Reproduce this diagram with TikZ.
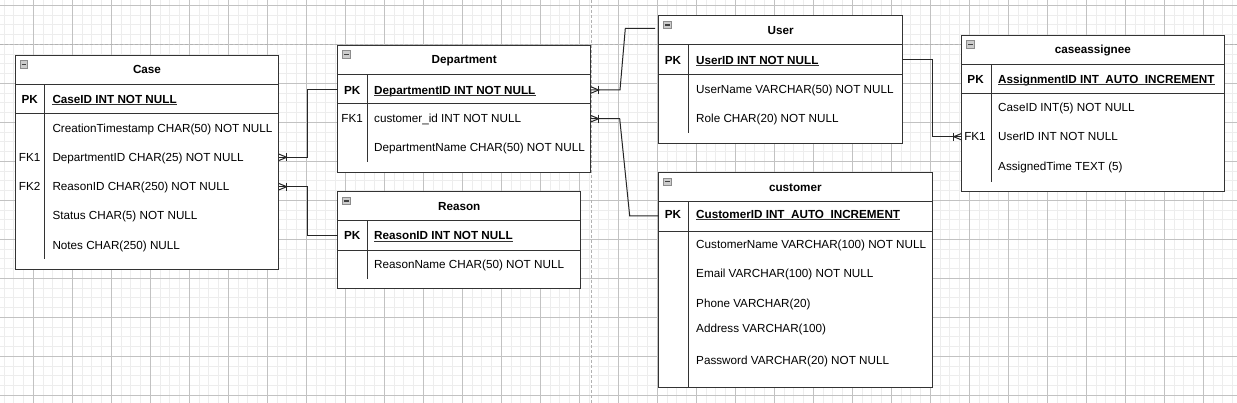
\documentclass[tikz,border=0pt]{standalone}
\usepackage{fontspec}
\setmainfont{Liberation Sans}
\usetikzlibrary{calc}
\newcommand\fsz{\fontsize{11.7}{14}\selectfont}
\tikzset{
 tbox/.style={draw=black!80, fill=white, line width=1pt, inner sep=0pt, outer sep=0pt, rectangle},
 tline/.style={draw=black!80, line width=1pt},
 ticon/.style={draw=gray!90, fill=gray!40, line width=0.6pt},
 ticonl/.style={draw=black!75, line width=1.1pt},
 ttitle/.style={font=\fsz\bfseries, inner sep=0pt, text height=8.4pt, text depth=0pt},
 fld/.style={font=\fsz, anchor=west, inner sep=0pt, text height=8.4pt, text depth=0pt},
 pkfld/.style={fld, font=\fsz\bfseries},
 keyl/.style={font=\fsz, inner sep=0pt, text height=8.4pt, text depth=0pt},
 pkkey/.style={keyl, font=\fsz\bfseries},
 uline/.style={draw=black!80, line width=1pt},
 conn/.style={draw=black!85, line width=1pt},
 gminor/.style={draw=black!7, line width=0.8pt},
 gmajor/.style={draw=black!24, line width=0.8pt},
 pageline/.style={draw=black!30, line width=1pt, dash pattern=on 3pt off 2pt},
 crowfoot/.pic={\draw[conn] (0,-3.3) -- (8,0) -- (0,3.3); \draw[conn] (8,-4) -- (8,4);}
}
% #1 name, #2 x, #3 y, #4 w, #5 h, #6 title, #7 divider gap at bottom
\newcommand\ertbl[7]{%
 \node[tbox, minimum width=#4pt, minimum height=#5pt, anchor=north west] (#1) at (#2,#3) {};
 \draw[tline] ($(#1.north west)+(0,29)$) -- ($(#1.north east)+(0,29)$);
 \draw[tline] ($(#1.north west)+(0,58.4)$) -- ($(#1.north east)+(0,58.4)$);
 \draw[tline] ($(#1.north west)+(29.3,29)$) -- ($(#1.south west)+(29.3,-#7)$);
 \draw[ticon] ($(#1.north west)+(4.8,5.3)$) rectangle ($(#1.north west)+(12.3,12.8)$);
 \draw[ticonl] ($(#1.north west)+(6.2,9.05)$) -- ($(#1.north west)+(10.9,9.05)$);
 \node[ttitle] (#1-title) at ($(#1.north)+(0,14.5)$) {#6};
}
\newcommand\pkul[1]{\draw[uline] ([yshift=-1.3pt]#1.south west) -- ([yshift=-1.3pt]#1.south east);}
\begin{document}
\begin{tikzpicture}[x=1pt,y=-1pt]
\useasboundingbox (0,0) rectangle (1237,403);
\fill[white] (0,0) rectangle (1237,403);
\begin{scope}
 \clip (0,0) rectangle (1237,403);
 \begin{scope}[shift={(33.3,5.3)}]
  \draw[gminor] (-40,-40) grid[step=9.75pt] (1220,410);
  \draw[gmajor] (-39,-39) grid[step=39pt] (1209,402);
 \end{scope}
 \draw[pageline] (0,44.3) -- (1237,44.3);
 \draw[pageline] (591,0) -- (591,403);
\end{scope}

% ---------- Case ----------
\ertbl{case}{15.3}{55.3}{263.4}{214}{Case}{10}
\node[pkkey] (case-pkk) at (29.7,99) {PK};
\node[pkfld] (case-pk) at (52.3,99) {CaseID INT NOT NULL}; \pkul{case-pk}
\node[fld] (case-r1) at (52.3,128.7) {CreationTimestamp CHAR(50) NOT NULL};
\node[keyl] (case-k2) at (29.7,157.3) {FK1};
\node[fld] (case-r2) at (52.3,157.3) {DepartmentID CHAR(25) NOT NULL};
\node[keyl] (case-k3) at (29.7,186.7) {FK2};
\node[fld] (case-r3) at (52.3,186.7) {ReasonID CHAR(250) NOT NULL};
\node[fld] (case-r4) at (52.3,215.7) {Status CHAR(5) NOT NULL};
\node[fld] (case-r5) at (52.3,245.3) {Notes CHAR(250) NULL};

% ---------- Department ----------
\ertbl{dept}{337.7}{45.3}{253}{127}{Department}{10}
\node[pkkey] (dept-pkk) at (352.2,90) {PK};
\node[pkfld] (dept-pk) at (374,90) {DepartmentID INT NOT NULL}; \pkul{dept-pk}
\node[keyl] (dept-k1) at (352.2,118.7) {FK1};
\node[fld] (dept-r1) at (374,118.7) {customer\_id INT NOT NULL};
\node[fld] (dept-r2) at (374,147.7) {DepartmentName CHAR(50) NOT NULL};

% ---------- Reason ----------
\ertbl{reason}{337.7}{192}{243}{97}{Reason}{10}
\node[pkkey] (reason-pkk) at (352.2,235.7) {PK};
\node[pkfld] (reason-pk) at (374,235.7) {ReasonID INT NOT NULL}; \pkul{reason-pk}
\node[fld] (reason-r1) at (374,264.7) {ReasonName CHAR(50) NOT NULL};

% ---------- User ----------
\ertbl{user}{658.7}{16}{244}{127.3}{User}{10}
\node[pkkey] (user-pkk) at (673,60) {PK};
\node[pkfld] (user-pk) at (696,60) {UserID INT NOT NULL}; \pkul{user-pk}
\node[fld] (user-r1) at (696,89.7) {UserName VARCHAR(50) NOT NULL};
\node[fld] (user-r2) at (696,118.7) {Role CHAR(20) NOT NULL};

% ---------- customer ----------
\ertbl{cust}{658.7}{172.7}{273.3}{214.6}{customer}{0}
\node[pkkey] (cust-pkk) at (673,214.3) {PK};
\node[pkfld] (cust-pk) at (696,214.3) {CustomerID INT\_AUTO\_INCREMENT}; \pkul{cust-pk}
\node[fld] (cust-r1) at (696,244.7) {CustomerName VARCHAR(100) NOT NULL};
\node[fld] (cust-r2) at (696,273.7) {Email VARCHAR(100) NOT NULL};
\node[fld] (cust-r3) at (696,303) {Phone VARCHAR(20)};
\node[fld] (cust-r4) at (696,328.7) {Address VARCHAR(100)};
\node[fld] (cust-r5) at (696,360.7) {Password VARCHAR(20) NOT NULL};

% ---------- caseassignee ----------
\ertbl{ca}{961.7}{35.3}{262.3}{156.4}{caseassignee}{10}
\node[pkkey] (ca-pkk) at (975.6,79) {PK};
\node[pkfld] (ca-pk) at (998,79) {AssignmentID INT\_AUTO\_INCREMENT}; \pkul{ca-pk}
\node[fld] (ca-r1) at (998,107.7) {CaseID INT(5) NOT NULL};
\node[keyl] (ca-k2) at (975,136.7) {FK1};
\node[fld] (ca-r2) at (998,136.7) {UserID INT NOT NULL};
\node[fld] (ca-r3) at (998,166.7) {AssignedTime TEXT (5)};

% ---------- connectors ----------
\coordinate (ubend) at (625.3,28.5);
\coordinate (uin) at (655,28.5);
\coordinate (cbend) at (629.7,216);

\draw[conn] (case.east |- case-r2) -- ++(29,0) |- (dept.west |- dept-pk);
\draw[conn] (case.east |- case-r3) -- ++(29,0) |- (reason.west |- reason-pk);
\draw[conn] (dept.east |- dept-pk) -- ++(29.3,0) -- (ubend) -- (uin);
\draw[conn] (dept.east |- dept-r1) -- ++(29,0) -- (cbend) -- (cust.west |- cbend);
\draw[conn] (user.east |- user-pk) -- ++(29.4,0) |- (ca.west |- ca-r2);

\pic at (case.east |- case-r2) {crowfoot};
\pic at (case.east |- case-r3) {crowfoot};
\pic at (dept.east |- dept-pk) {crowfoot};
\pic at (dept.east |- dept-r1) {crowfoot};
\pic[rotate=180] at (ca.west |- ca-r2) {crowfoot};
\end{tikzpicture}
\end{document}
